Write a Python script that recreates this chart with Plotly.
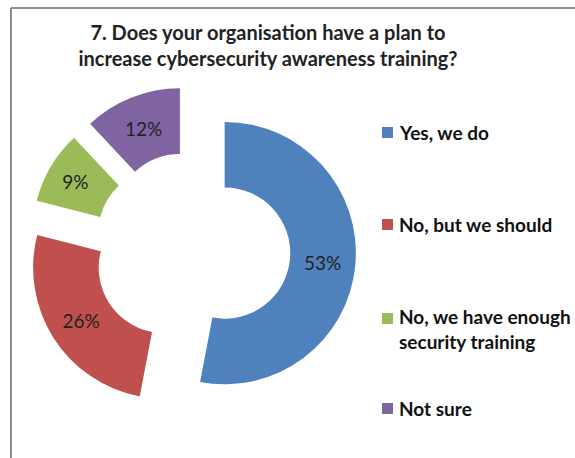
import plotly.graph_objects as go

# Survey answers, in clockwise order starting at 12 o'clock
labels = ["Yes, we do", "No, but we should", "No, we have enough security training", "Not sure"]
legend_text = ["Yes, we do", "No, but we should", "No, we have enough<br>security training", "Not sure"]
values = [53, 26, 9, 12]
colors = ["#4F81BD", "#C0504D", "#9BBB59", "#8064A2"]
title_text = "7. Does your organisation have a plan to<br>increase cybersecurity awareness training?"

W, H = 575, 458
FONT = "Lato"

# Pie box in pixels (centre 192,250; size covers radius plus pull)
box_l, box_r, box_t, box_b = 28, 356, 86, 414

fig = go.Figure(
    go.Pie(
        labels=labels,
        values=values,
        marker=dict(colors=colors, line=dict(width=0)),
        hole=0.5,
        pull=[0.25] * len(values),
        sort=False,
        direction="clockwise",
        rotation=0,
        textinfo="percent",
        textposition="inside",
        insidetextorientation="horizontal",
        textfont=dict(family=FONT, size=19, color="#222222"),
        domain=dict(x=[box_l / W, box_r / W], y=[1 - box_b / H, 1 - box_t / H]),
        showlegend=False,
        hoverinfo="label+percent",
    )
)

# Legend: a coloured square per answer, text to its right
legend_y = [132, 224, 318, 408]   # pixel row of each entry's first line
line_gap = 21
annotations = []
shapes = []
for txt, col, y in zip(legend_text, colors, legend_y):
    n_lines = txt.count("<br>") + 1
    yc = y + (n_lines - 1) * line_gap / 2
    annotations.append(
        dict(
            x=397 / W, y=1 - yc / H, xref="paper", yref="paper",
            xanchor="left", yanchor="middle", align="left", showarrow=False,
            text=txt,
            font=dict(family=FONT, size=19, color="#111111", weight="bold"),
        )
    )
    shapes.append(
        dict(
            type="rect", xref="paper", yref="paper",
            x0=382 / W, x1=393 / W, y0=1 - (y + 6) / H, y1=1 - (y - 5) / H,
            fillcolor=col, line=dict(width=0),
        )
    )

# Chart frame (left and top edges)
frame = dict(color="#8C8C8C", width=2)
shapes += [
    dict(type="line", xref="paper", yref="paper", x0=11 / W, x1=11 / W, y0=-0.1, y1=1 - 8 / H, line=frame),
    dict(type="line", xref="paper", yref="paper", x0=11 / W, x1=1.1, y0=1 - 8 / H, y1=1 - 8 / H, line=frame),
]

fig.update_layout(
    width=W,
    height=H,
    margin=dict(l=0, r=0, t=0, b=0),
    paper_bgcolor="white",
    plot_bgcolor="white",
    title=dict(
        text=title_text,
        x=268 / W, xanchor="center",
        y=1 - 40 / H, yanchor="top",
        font=dict(family=FONT, size=20, color="#222222", weight="bold"),
    ),
    annotations=annotations,
    shapes=shapes,
)

fig.write_html("out.html")
